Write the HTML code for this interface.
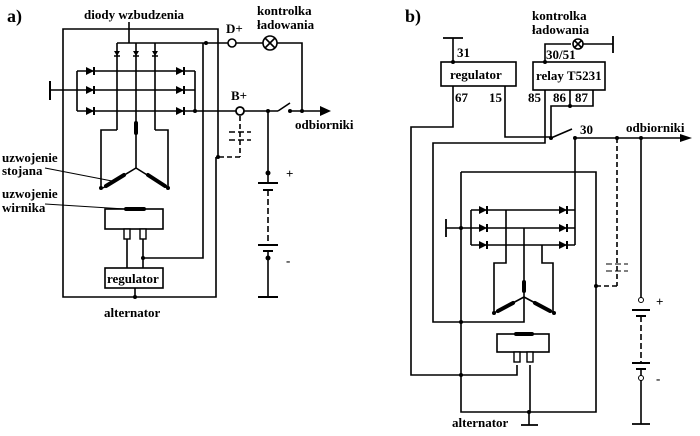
<!DOCTYPE html>
<html><head><meta charset="utf-8"><style>
html,body{margin:0;padding:0;background:#fff;}
svg{display:block;}
text{font-family:"Liberation Serif",serif;font-weight:bold;font-size:13px;fill:#000;}
</style></head><body>
<svg width="700" height="436" viewBox="0 0 700 436" xmlns="http://www.w3.org/2000/svg">
<defs>
<g id="dr"><polygon points="-5,-4 -5,4 3,0" fill="#000"/><line x1="3" y1="-4" x2="3" y2="4" stroke="#000" stroke-width="2"/></g>
<g id="dd"><polygon points="-3,-3 3,-3 0,2" fill="#000"/><line x1="-3" y1="2" x2="3" y2="2" stroke="#000" stroke-width="1.5"/></g>
</defs>
<g stroke="#000" stroke-width="1.6" fill="none">
<!-- ===== a ===== -->
<polyline points="218,157 218,29 63,29 63,297 216,297 216,157"/>
<line x1="117" y1="43" x2="228" y2="43"/>
<circle cx="232" cy="43" r="4" fill="#fff"/>
<line x1="236" y1="43" x2="263" y2="43"/>
<circle cx="270" cy="43" r="7" fill="#fff"/>
<line x1="265" y1="38" x2="275" y2="48"/><line x1="275" y1="38" x2="265" y2="48"/>
<polyline points="277,43 302,43 302,111"/>
<line x1="129" y1="22" x2="129" y2="43"/>
<line x1="117" y1="43" x2="117" y2="130"/><line x1="136" y1="43" x2="136" y2="123"/><line x1="155" y1="43" x2="155" y2="130"/>
<line x1="77" y1="71" x2="77" y2="111"/><line x1="195" y1="71" x2="195" y2="111"/>
<line x1="77" y1="71" x2="195" y2="71"/><line x1="50" y1="90" x2="195" y2="90"/><line x1="77" y1="111" x2="236" y2="111"/>
<line x1="50" y1="81" x2="50" y2="100" stroke-width="2"/>
<line x1="244" y1="111" x2="278" y2="111"/>
<line x1="278" y1="111" x2="290" y2="103"/>
<line x1="290" y1="111" x2="322" y2="111"/>
<polyline points="117,130 101,130 101,188"/><polyline points="155,130 168,130 168,188"/>
<line x1="136" y1="133" x2="136" y2="168"/>
<line x1="136" y1="168" x2="103" y2="188"/><line x1="136" y1="168" x2="168" y2="188"/>
<line x1="45" y1="168" x2="112" y2="181" stroke-width="1"/>
<line x1="45" y1="204" x2="125" y2="209" stroke-width="1"/>
<rect x="105" y="209" width="58" height="20"/>
<line x1="127" y1="229" x2="127" y2="268"/><line x1="143" y1="229" x2="143" y2="268"/>
<polyline points="143,258 203,258 203,43"/>
<rect x="105" y="268" width="58" height="20"/>
<line x1="135" y1="288" x2="135" y2="297"/>
<g stroke-dasharray="5,3"><line x1="240" y1="116" x2="240" y2="157"/><line x1="240" y1="157" x2="218" y2="157"/></g>
<line x1="229" y1="132" x2="251" y2="132" stroke-dasharray="6,3"/>
<line x1="229" y1="140" x2="251" y2="140" stroke-dasharray="6,3"/>
<line x1="268" y1="111" x2="268" y2="183"/>
<line x1="258" y1="183" x2="278" y2="183" stroke-width="2"/><line x1="263" y1="190" x2="273" y2="190" stroke-width="2"/>
<line x1="268" y1="190" x2="268" y2="245" stroke-dasharray="6,3"/>
<line x1="258" y1="245" x2="278" y2="245" stroke-width="2"/><line x1="263" y1="251" x2="273" y2="251" stroke-width="2"/>
<line x1="268" y1="251" x2="268" y2="297"/><line x1="258" y1="297" x2="278" y2="297" stroke-width="2"/>
<!-- ===== b ===== -->
<rect x="441" y="62" width="75" height="24"/>
<rect x="533" y="62" width="72" height="28"/>
<line x1="453" y1="38" x2="453" y2="62"/><line x1="443" y1="38" x2="463" y2="38" stroke-width="1.8"/>
<polyline points="545,62 545,44 571,44"/><circle cx="578" cy="44" r="5" fill="#fff"/>
<line x1="574" y1="40" x2="582" y2="48"/><line x1="582" y1="40" x2="574" y2="48"/>
<line x1="583" y1="44" x2="613" y2="44"/><line x1="613" y1="36" x2="613" y2="53" stroke-width="1.8"/>
<polyline points="570,90 570,106 593,106 593,90"/>
<polyline points="570,106 551,106 551,138"/>
<polyline points="453,86 453,127 411,127 411,375 517,375 517,365"/>
<polyline points="505,86 505,137 551,137"/>
<polyline points="545,90 545,143 433,143 433,322 524,322 524,297"/>
<line x1="551" y1="138" x2="572" y2="129"/>
<line x1="575" y1="138" x2="682" y2="138"/>
<line x1="575" y1="138" x2="575" y2="245"/>
<g stroke-dasharray="5,3"><line x1="617" y1="138" x2="617" y2="286"/><line x1="617" y1="286" x2="596" y2="286"/></g>
<line x1="606" y1="264" x2="628" y2="264" stroke-dasharray="6,3" stroke-width="1"/>
<line x1="606" y1="271" x2="628" y2="271" stroke-dasharray="6,3" stroke-width="1"/>
<polyline points="461,172 596,172 596,412 461,412 461,172"/>
<line x1="529" y1="412" x2="529" y2="425"/><line x1="521" y1="425" x2="538" y2="425" stroke-width="1.8"/>
<line x1="471" y1="210" x2="471" y2="245"/>
<line x1="471" y1="210" x2="575" y2="210"/><line x1="446" y1="228" x2="575" y2="228"/><line x1="471" y1="245" x2="575" y2="245"/>
<line x1="446" y1="219" x2="446" y2="237" stroke-width="1.8"/>
<polyline points="506,210 506,263 494,263 494,313"/>
<line x1="524" y1="228" x2="524" y2="297"/>
<polyline points="542,245 542,263 553,263 553,313"/>
<line x1="524" y1="297" x2="494" y2="313"/><line x1="524" y1="297" x2="554" y2="313"/>
<rect x="497" y="334" width="52" height="18"/>
<line x1="530" y1="365" x2="530" y2="412"/>
<line x1="641" y1="138" x2="641" y2="298"/>
<line x1="632" y1="310" x2="650" y2="310" stroke-width="2"/><line x1="636" y1="316" x2="646" y2="316" stroke-width="2"/>
<line x1="641" y1="316" x2="641" y2="363" stroke-dasharray="6,3"/>
<line x1="632" y1="363" x2="650" y2="363" stroke-width="2"/><line x1="636" y1="369" x2="646" y2="369" stroke-width="2"/>
<line x1="641" y1="369" x2="641" y2="376"/><line x1="641" y1="380" x2="641" y2="424"/>
<line x1="632" y1="424" x2="650" y2="424" stroke-width="1.8"/>
</g>
<g stroke="#000" stroke-width="4" stroke-linecap="round">
<line x1="136" y1="123" x2="136" y2="133"/>
<line x1="106" y1="186" x2="124" y2="175"/><line x1="148" y1="175" x2="165" y2="186"/>
<line x1="126" y1="209" x2="144" y2="209"/>
<line x1="524" y1="282" x2="524" y2="291"/>
<line x1="498" y1="311" x2="513" y2="303"/><line x1="535" y1="303" x2="550" y2="311"/>
<line x1="516" y1="334" x2="532" y2="334"/>
</g>
<g stroke="#000" stroke-width="1.4" fill="#fff">
<rect x="124" y="229" width="6" height="10"/><rect x="140" y="229" width="6" height="10"/>
<rect x="514" y="352" width="6" height="10"/><rect x="527" y="352" width="6" height="10"/>
</g>
<use href="#dd" x="117" y="54"/><use href="#dd" x="136" y="54"/><use href="#dd" x="155" y="54"/>
<use href="#dr" x="91" y="71"/><use href="#dr" x="91" y="90"/><use href="#dr" x="91" y="111"/>
<use href="#dr" x="181" y="71"/><use href="#dr" x="181" y="90"/><use href="#dr" x="181" y="111"/>
<use href="#dr" x="484" y="210"/><use href="#dr" x="484" y="228"/><use href="#dr" x="484" y="245"/>
<use href="#dr" x="564" y="210"/><use href="#dr" x="564" y="228"/><use href="#dr" x="564" y="245"/>
<circle cx="240" cy="111" r="4" fill="#fff" stroke="#000" stroke-width="1.8"/>
<circle cx="641" cy="300" r="2.5" fill="#fff" stroke="#000"/>
<circle cx="641" cy="378" r="2.5" fill="#fff" stroke="#000"/>
<polygon points="320,106 331,111 320,116" fill="#000"/>
<polygon points="680,134 692,138 680,142" fill="#000"/>
<g fill="#000">
<circle cx="206" cy="43" r="2"/><circle cx="195" cy="111" r="2"/><circle cx="268" cy="111" r="2"/><circle cx="290" cy="111" r="2"/><circle cx="302" cy="111" r="2"/>
<circle cx="218" cy="157" r="2"/><circle cx="268" cy="173" r="2.5"/><circle cx="268" cy="258" r="2.5"/>
<circle cx="143" cy="258" r="2"/><circle cx="135" cy="297" r="2"/><circle cx="101" cy="188" r="2"/><circle cx="168" cy="188" r="2"/>
<circle cx="453" cy="62" r="2"/><circle cx="545" cy="62" r="2"/><circle cx="570" cy="106" r="2"/><circle cx="551" cy="138" r="2"/>
<circle cx="575" cy="138" r="2"/><circle cx="617" cy="138" r="2"/><circle cx="641" cy="138" r="2"/>
<circle cx="461" cy="228" r="2"/><circle cx="461" cy="322" r="2"/><circle cx="461" cy="375" r="2"/><circle cx="596" cy="286" r="2"/>
<circle cx="529" cy="412" r="2"/><circle cx="494" cy="313" r="2"/><circle cx="554" cy="313" r="2"/>
</g>
<text x="7" y="22" style="font-size:18px">a)</text>
<text x="84" y="19">diody wzbudzenia</text>
<text x="226" y="33">D+</text>
<text x="257" y="15">kontrolka</text>
<text x="257" y="29">ładowania</text>
<text x="231" y="100">B+</text>
<text x="295" y="129">odbiorniki</text>
<text x="2" y="162">uzwojenie</text>
<text x="2" y="175">stojana</text>
<text x="2" y="198">uzwojenie</text>
<text x="2" y="212">wirnika</text>
<text x="107" y="283">regulator</text>
<text x="286" y="178">+</text>
<text x="286" y="265">-</text>
<text x="104" y="317">alternator</text>
<text x="405" y="22" style="font-size:18px">b)</text>
<text x="532" y="20">kontrolka</text>
<text x="532" y="34">ładowania</text>
<text x="457" y="57">31</text>
<text x="546" y="59">30/51</text>
<text x="450" y="79">regulator</text>
<text x="536" y="80">relay T5231</text>
<text x="455" y="102">67</text>
<text x="489" y="102">15</text>
<text x="528" y="102">85</text>
<text x="553" y="102">86</text>
<text x="575" y="102">87</text>
<text x="580" y="134">30</text>
<text x="626" y="132">odbiorniki</text>
<text x="656" y="306">+</text>
<text x="656" y="383">-</text>
<text x="452" y="427">alternator</text>
</svg>
</body></html>
